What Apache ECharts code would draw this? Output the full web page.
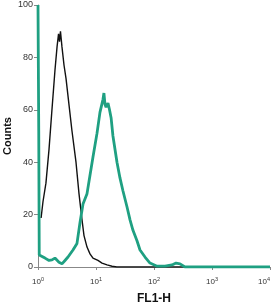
<!DOCTYPE html>
<html><head><meta charset="utf-8">
<script src="https://cdn.jsdelivr.net/npm/echarts@6/dist/echarts.min.js"></script>
<style>html,body{margin:0;padding:0;background:#fff}#c{width:274px;height:306px}</style>
</head><body><div id="c"></div>
<script>
const xTickLabels = ['10^0','10^1','10^2','10^3','10^4'];
const yTicks = [0,20,40,60,80,100];
const controlFL = [1.13,1.22,1.37,1.55,1.74,1.96,2.13,2.26,2.35,2.44,2.59,2.81,3.04,3.42,3.85,4.52,5.09,5.74,6.21,7.0,7.88,8.87,10.8,12.7,15.5,18.9,22.9,10000];
const controlCounts = [18.7,25,32,45,60,75,84,89,86,90,84,77,72,62,52,40,28,18,12,7.6,5,3.4,2.5,1.5,0.8,0.3,0,0];
const stainedFL = [1,1.03,1.05,1.32,1.55,1.74,1.96,2.30,2.59,2.92,3.29,4.01,4.70,5.30,5.97,7.0,7.88,8.87,10.4,11.7,13.2,13.7,14.3,14.9,16.1,17.1,18.2,19.6,23.0,25.9,29.2,34.2,38.6,43.4,50.9,57.4,70,85.3,113,155,204,240,281,342,10000];
const stainedCounts = [100,52,4.6,3.4,2.5,2.7,3.4,1.8,1.2,2.5,3.8,6.5,9,17,24,28,35,42,51,59,64,66.4,62,61,62.6,60,57,50,40,34,29,23,18,14,10,6.5,3.8,1.5,0.3,0.3,0.8,1.5,1.2,0,0];

const pair = (xs, ys) => xs.map((x, i) => [x, ys[i]]);
const chart = echarts.init(document.getElementById('c'));
chart.setOption({
  animation: false,
  grid: {left: 38, right: 4, top: 5, bottom: 39, containLabel: false, outerBoundsMode: 'none'},
  xAxis: {
    type: 'log', logBase: 10, min: 1, max: 10000,
    name: 'FL1-H', nameLocation: 'middle', nameGap: 26, nameMoveOverlap: false,
    nameTextStyle: {fontFamily: 'Liberation Sans', fontWeight: 'bold', fontSize: 12, color: '#111'},
    axisLine: {lineStyle: {color: '#888', width: 1}},
    axisTick: {show: true, length: 3, lineStyle: {color: '#888'}},
    splitLine: {show: false},
    axisLabel: {
      margin: 9, alignMaxLabel: 'right',
      formatter: function (v) {
        const e = Math.round(Math.log10(v));
        const t = xTickLabels[e] || '';
        const parts = t.split('^');
        return '{b|' + parts[0] + '}{s|' + parts[1] + '}';
      },
      rich: {
        b: {fontFamily: 'Liberation Sans Narrow, Liberation Sans', fontSize: 8, color: '#333'},
        s: {fontFamily: 'Liberation Sans Narrow, Liberation Sans', fontSize: 5.5, color: '#333', padding: [0, 0, 5, 0]}
      }
    }
  },
  yAxis: {
    type: 'value', min: 0, max: 100, interval: 20,
    name: 'Counts', nameLocation: 'middle', nameGap: 25, nameRotate: 90, nameMoveOverlap: false,
    nameTextStyle: {fontFamily: 'Liberation Sans', fontWeight: 'bold', fontSize: 11, color: '#111'},
    axisLine: {show: true, lineStyle: {color: '#888', width: 1}},
    axisTick: {show: true, length: 4, lineStyle: {color: '#888'}},
    splitLine: {show: false},
    axisLabel: {margin: 5, fontFamily: 'Liberation Sans Narrow, Liberation Sans', fontSize: 9, color: '#333',
      formatter: v => yTicks.includes(v) ? String(v) : ''}
  },
  series: [
    {type: 'line', data: pair(controlFL, controlCounts), showSymbol: false, symbol: 'none',
      lineStyle: {color: '#111', width: 1.4}, z: 2, clip: true},
    {type: 'line', data: pair(stainedFL, stainedCounts), showSymbol: false, symbol: 'none',
      lineStyle: {color: '#1fa082', width: 2.8}, z: 3, clip: true}
  ]
});
</script></body></html>
